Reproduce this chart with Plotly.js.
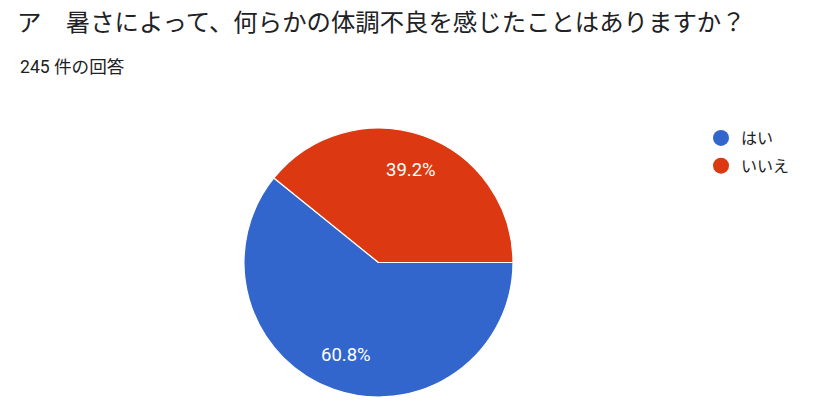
<!DOCTYPE html>
<html>
<head>
<meta charset="utf-8">
<script src="https://cdn.plot.ly/plotly-3.0.1.min.js"></script>
<style>
  html, body { margin: 0; padding: 0; background: #fff; }
  #chart { width: 832px; height: 415px; }
</style>
</head>
<body>
<div id="chart"></div>
<script>
// 回答データ (245 件)
const labels = ['はい', 'いいえ'];
const counts = [149, 96];
const colors = ['#3366cc', '#dc3912'];
const titleText = 'ア　暑さによって、何らかの体調不良を感じたことはありますか？';
const subtitleText = '245 件の回答';

const W = 832, H = 415;
// pie box in pixels
const box = { x0: 244, x1: 513, y0: 128, y1: 397 };
const startAngle = 90; // 3時の位置から時計回り

const pie = {
    type: 'pie',
    labels: labels,
    values: counts,
    sort: false,
    direction: 'clockwise',
    rotation: startAngle,
    marker: { colors: colors, line: { color: '#ffffff', width: 1.2 } },
    textinfo: 'none',
    showlegend: false,
    hoverinfo: 'label+percent',
    domain: { x: [box.x0 / W, box.x1 / W], y: [1 - box.y1 / H, 1 - box.y0 / H] }
};

// percent labels, placed at the middle angle of each slice
const total = counts.reduce((a, b) => a + b, 0);
const cx = (box.x0 + box.x1) / 2, cy = (box.y0 + box.y1) / 2;
const rad = (box.x1 - box.x0) / 2 * 0.73;
let acc = 0;
const pctAnnotations = counts.map(v => {
    const mid = startAngle + (acc + v / 2) / total * 360;
    acc += v;
    const a = mid * Math.PI / 180;
    return {
        text: (v / total * 100).toFixed(1) + '%',
        xref: 'paper', yref: 'paper',
        x: (cx + rad * Math.sin(a)) / W,
        y: 1 - (cy - rad * Math.cos(a)) / H,
        xanchor: 'center', yanchor: 'middle',
        showarrow: false,
        font: { family: 'Roboto, Arial, sans-serif', size: 18.5, color: '#ffffff' }
    };
});

// legend entries with round markers
const legendTraces = labels.map((name, i) => ({
    type: 'scatter',
    mode: 'markers',
    x: [null],
    y: [null],
    name: name,
    legendgroup: 'g' + i,
    marker: { symbol: 'circle', size: 18, color: colors[i] },
    hoverinfo: 'skip'
}));

const layout = {
    width: W,
    height: H,
    margin: { l: 0, r: 0, t: 0, b: 0 },
    paper_bgcolor: '#ffffff',
    plot_bgcolor: '#ffffff',
    font: { family: '"Noto Sans CJK JP", Roboto, sans-serif', color: '#202124' },
    title: {
        text: titleText,
        x: 17 / W,
        xanchor: 'left',
        xref: 'paper',
        y: 1 - 22.5 / H,
        yanchor: 'middle',
        font: { family: '"Noto Sans CJK JP", sans-serif', size: 24.4, color: '#202124' }
    },
    annotations: [{
        text: subtitleText,
        xref: 'paper', yref: 'paper',
        x: 18 / W, y: 1 - 67 / H,
        xanchor: 'left', yanchor: 'middle',
        showarrow: false,
        font: { family: 'Roboto, "Noto Sans CJK JP", sans-serif', size: 17.6, color: '#202124' }
    }].concat(pctAnnotations),
    xaxis: { visible: false, domain: [0, 0.01] },
    yaxis: { visible: false, domain: [0, 0.01] },
    showlegend: true,
    legend: {
        x: 701 / W,
        y: 1 - 121 / H,
        xanchor: 'left',
        yanchor: 'top',
        tracegroupgap: 4,
        itemwidth: 30,
        bgcolor: 'rgba(0,0,0,0)',
        font: { family: '"Noto Sans CJK JP", sans-serif', size: 16, color: '#202124' }
    }
};

const config = { displayModeBar: false, responsive: false };

Plotly.newPlot('chart', [pie].concat(legendTraces), layout, config);
</script>
</body>
</html>
